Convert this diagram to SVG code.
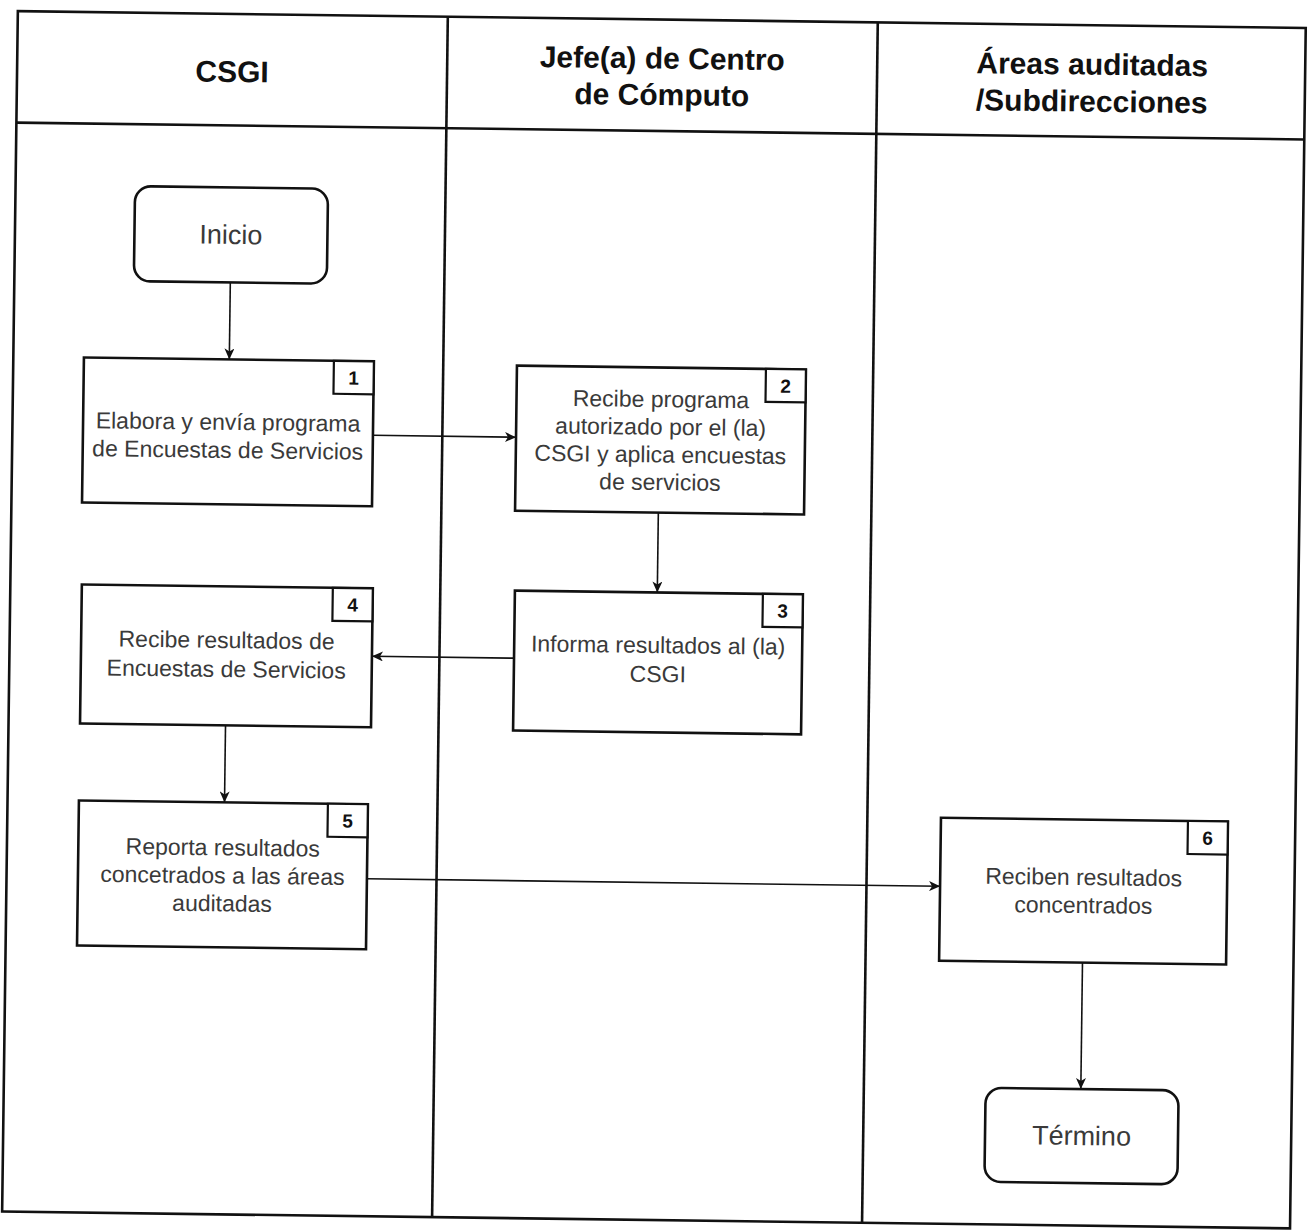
<svg xmlns="http://www.w3.org/2000/svg" width="1309" height="1230" viewBox="0 0 1309 1230">
<defs>
<marker id="arr" markerUnits="userSpaceOnUse" markerWidth="12" markerHeight="10" refX="11" refY="5" orient="auto">
<path d="M0,0 L11,5 L0,10 L3,5 Z" fill="#111"/>
</marker>
<style>
.lane{fill:none;stroke:#111;stroke-width:2.6}
.box{fill:#fff;stroke:#111;stroke-width:2.6}
.badge{fill:#fff;stroke:#111;stroke-width:2.2}
.hdr{font-family:"Liberation Sans",Arial,sans-serif;font-weight:bold;font-size:30px;fill:#111;text-anchor:middle}
.txt{font-family:"Liberation Sans",Arial,sans-serif;font-size:23px;fill:#3a3a3a;text-anchor:middle}
.term{font-family:"Liberation Sans",Arial,sans-serif;font-size:27px;fill:#3a3a3a;text-anchor:middle}
.num{font-family:"Liberation Sans",Arial,sans-serif;font-weight:bold;font-size:19px;fill:#111;text-anchor:middle}
.con{fill:none;stroke:#111;stroke-width:1.6;marker-end:url(#arr)}
</style>
</defs>
<rect width="1309" height="1230" fill="#fff"/>
<g transform="rotate(0.75 654 615)">
<g id="lanes">
<rect class="lane" x="10" y="19.5" width="1288" height="1200.5"/>
<line class="lane" x1="10" y1="131" x2="1298" y2="131"/>
<line class="lane" x1="440" y1="19.5" x2="440" y2="1220"/>
<line class="lane" x1="870" y1="19.5" x2="870" y2="1220"/>
<text class="hdr" x="225" y="87.5">CSGI</text>
<text class="hdr" x="655" y="68.5">Jefe(a) de Centro<tspan x="655" y="105">de Cómputo</tspan></text>
<text class="hdr" x="1085" y="69">Áreas auditadas<tspan x="1085" y="106">/Subdirecciones</tspan></text>
</g>
<g id="connectors">
<line class="con" x1="226" y1="288" x2="226" y2="365"/>
<line class="con" x1="370.6" y1="439" x2="513.7" y2="439"/>
<line class="con" x1="657" y1="512.5" x2="657" y2="592.4"/>
<line class="con" x1="514.6" y1="660" x2="372.5" y2="660"/>
<line class="con" x1="227" y1="731" x2="227" y2="808"/>
<line class="con" x1="370.4" y1="882.5" x2="943.6" y2="882.5"/>
<line class="con" x1="1087" y1="957" x2="1087" y2="1083.4"/>
</g>
<g id="inicio">
<rect class="box" x="129.5" y="193" width="193" height="95" rx="16"/>
<text class="term" x="226" y="249.5">Inicio</text>
</g>
<g id="n1">
<rect class="box" x="80.6" y="365" width="290" height="145"/>
<rect class="badge" x="330.6" y="365" width="40" height="33"/>
<text class="num" x="350.6" y="388.5">1</text>
<text class="txt" x="225.6" y="435.5">Elabora y envía programa<tspan x="225.6" y="463.5">de Encuestas de Servicios</tspan></text>
</g>
<g id="n2">
<rect class="box" x="513.7" y="367.5" width="289" height="145"/>
<rect class="badge" x="762.7" y="367.5" width="40" height="33"/>
<text class="num" x="782.7" y="391">2</text>
<text class="txt" x="658.2" y="407">Recibe programa<tspan x="658.2" y="434.7">autorizado por el (la)</tspan><tspan x="658.2" y="462.4">CSGI y aplica encuestas</tspan><tspan x="658.2" y="490">de servicios</tspan></text>
</g>
<g id="n3">
<rect class="box" x="514.6" y="592.4" width="288" height="140"/>
<rect class="badge" x="762.6" y="592.4" width="40" height="33"/>
<text class="num" x="782.6" y="615.9">3</text>
<text class="txt" x="658.6" y="653">Informa resultados al (la)<tspan x="658.6" y="682">CSGI</tspan></text>
</g>
<g id="n4">
<rect class="box" x="81.5" y="592" width="291" height="139"/>
<rect class="badge" x="332.5" y="592" width="40" height="33"/>
<text class="num" x="352.5" y="615.5">4</text>
<text class="txt" x="227" y="653.6">Recibe resultados de<tspan x="227" y="682.6">Encuestas de Servicios</tspan></text>
</g>
<g id="n5">
<rect class="box" x="81.4" y="808" width="289" height="145"/>
<rect class="badge" x="330.4" y="808" width="40" height="33"/>
<text class="num" x="350.4" y="831.5">5</text>
<text class="txt" x="225.9" y="861">Reporta resultados<tspan x="225.9" y="889">concetrados a las áreas</tspan><tspan x="225.9" y="917">auditadas</tspan></text>
</g>
<g id="n6">
<rect class="box" x="943.6" y="814" width="287" height="143"/>
<rect class="badge" x="1190.6" y="814" width="40" height="33"/>
<text class="num" x="1210.6" y="837.5">6</text>
<text class="txt" x="1087.1" y="879.4">Reciben resultados<tspan x="1087.1" y="907.4">concentrados</tspan></text>
</g>
<g id="termino">
<rect class="box" x="991.8" y="1083.4" width="193" height="94" rx="16"/>
<text class="term" x="1088.3" y="1139.4">Término</text>
</g>
</g>
</svg>
